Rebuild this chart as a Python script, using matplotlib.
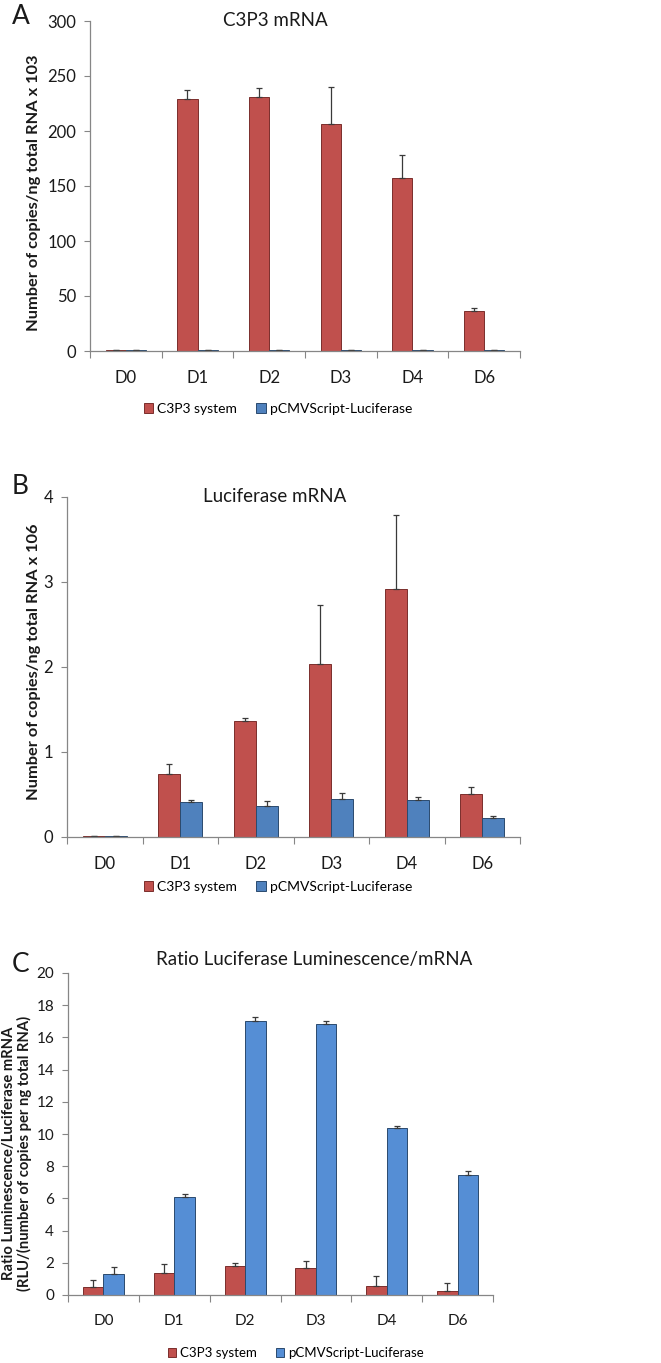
import matplotlib
matplotlib.use("Agg")
import matplotlib.pyplot as plt
import numpy as np

plt.rcParams["font.family"] = ["Lato", "DejaVu Sans"]

days = ["D0", "D1", "D2", "D3", "D4", "D6"]

# panel A: C3P3 mRNA (copies/ng total RNA x 10^3)
a_c3p3 = [0.5, 229, 231, 206, 157, 36]
a_c3p3_err = [0, 8, 8, 34, 21, 3]
a_pcmv = [0.5, 0.5, 0.5, 0.5, 0.5, 0.5]
a_pcmv_err = [0, 0, 0, 0, 0, 0]

# panel B: Luciferase mRNA (copies/ng total RNA x 10^6)
b_c3p3 = [0.01, 0.74, 1.36, 2.04, 2.92, 0.51]
b_c3p3_err = [0, 0.12, 0.04, 0.69, 0.87, 0.08]
b_pcmv = [0.01, 0.41, 0.37, 0.45, 0.43, 0.22]
b_pcmv_err = [0, 0.03, 0.05, 0.07, 0.04, 0.03]

# panel C: ratio luminescence / mRNA
c_c3p3 = [0.5, 1.37, 1.82, 1.68, 0.58, 0.25]
c_c3p3_err = [0.43, 0.53, 0.15, 0.43, 0.58, 0.52]
c_pcmv = [1.29, 6.07, 17.02, 16.81, 10.40, 7.46]
c_pcmv_err = [0.47, 0.23, 0.24, 0.23, 0.09, 0.23]

RED = "#C0504D"
BLUE = "#4F81BD"
BLUE_C = "#558ED5"
SPINE = "#868686"
TXT = "#1a1a1a"

W, H = 661, 1363
fig = plt.figure(figsize=(W / 100, H / 100), dpi=100)


def px_axes(left, right, top, bottom):
    return fig.add_axes([left / W, 1 - bottom / H, (right - left) / W, (bottom - top) / H])


def px_text(x, y, s, **kw):
    kw.setdefault("ha", "center")
    kw.setdefault("va", "center")
    kw.setdefault("color", TXT)
    return fig.text(x / W, 1 - y / H, s, **kw)


def draw_panel(ax, red, red_err, blue, blue_err, blue_col, ymax, ystep, width, fs):
    x = np.arange(len(days))
    ekw = dict(ecolor="#3a3a3a", elinewidth=0.9, capsize=2.2, capthick=0.9)
    ax.bar(x - width / 2, red, width, color=RED, edgecolor="#7a2e2c", linewidth=0.7,
           yerr=[np.zeros(len(red)), red_err], error_kw=ekw, label="C3P3 system")
    ax.bar(x + width / 2, blue, width, color=blue_col, edgecolor="#2b4a6e", linewidth=0.7,
           yerr=[np.zeros(len(blue)), blue_err], error_kw=ekw, label="pCMVScript-Luciferase")
    ax.set_xlim(-0.5, len(days) - 0.5)
    ax.set_ylim(0, ymax)
    ax.set_yticks(np.arange(0, ymax + ystep / 2, ystep))
    ax.set_xticks(x)
    ax.set_xticklabels(days)
    ax.set_xticks(np.arange(-0.5, len(days), 1.0), minor=True)
    ax.tick_params(axis="x", which="major", length=0, pad=14, labelsize=fs, colors=TXT)
    ax.tick_params(axis="x", which="minor", length=5, color=SPINE, width=0.8)
    ax.tick_params(axis="y", length=4, color=SPINE, width=0.8, labelsize=fs, colors=TXT, pad=6)
    for s in ["top", "right"]:
        ax.spines[s].set_visible(False)
    for s in ["left", "bottom"]:
        ax.spines[s].set_color(SPINE)
        ax.spines[s].set_linewidth(0.9)


def legend(ax, xc, yc, fs):
    h, l = ax.get_legend_handles_labels()
    fig.legend(h, l, loc="center", bbox_to_anchor=(xc / W, 1 - yc / H), ncol=2, frameon=False,
               fontsize=fs, handlelength=0.65, handleheight=0.65, handletextpad=0.3,
               columnspacing=1.4, borderpad=0)


# ── Panel A ──
ax = px_axes(90, 520, 21, 351)
draw_panel(ax, a_c3p3, a_c3p3_err, a_pcmv, a_pcmv_err, BLUE, 300, 50, 0.28, 12)
px_text(34, 193, "Number of copies/ng total RNA x 103", rotation=90, fontsize=11.8,
        fontweight="bold")
px_text(275, 21, "C3P3 mRNA", fontsize=13.5)
px_text(12, 16, "A", ha="left", fontsize=19)
legend(ax, 278, 409, 10)

# ── Panel B ──
ax = px_axes(67, 520, 497, 837)
draw_panel(ax, b_c3p3, b_c3p3_err, b_pcmv, b_pcmv_err, BLUE, 4, 1, 0.29, 12)
px_text(34, 662, "Number of copies/ng total RNA x 106", rotation=90, fontsize=11.8,
        fontweight="bold")
px_text(275, 496, "Luciferase mRNA", fontsize=13.5)
px_text(12, 486, "B", ha="left", fontsize=19)
legend(ax, 278, 887, 10)

# ── Panel C ──
ax = px_axes(68, 493, 973, 1295)
draw_panel(ax, c_c3p3, c_c3p3_err, c_pcmv, c_pcmv_err, BLUE_C, 20, 2, 0.29, 11)
px_text(17, 1153, "Ratio Luminescence/Luciferase mRNA\n(RLU/(number of copies per ng total RNA)",
        rotation=90, fontsize=10.6, fontweight="bold", linespacing=1.15)
px_text(314, 959, "Ratio Luciferase Luminescence/mRNA", fontsize=13.5)
px_text(12, 964, "C", ha="left", fontsize=19)
legend(ax, 296, 1353, 9.5)

fig.savefig("out.png", dpi=100)
